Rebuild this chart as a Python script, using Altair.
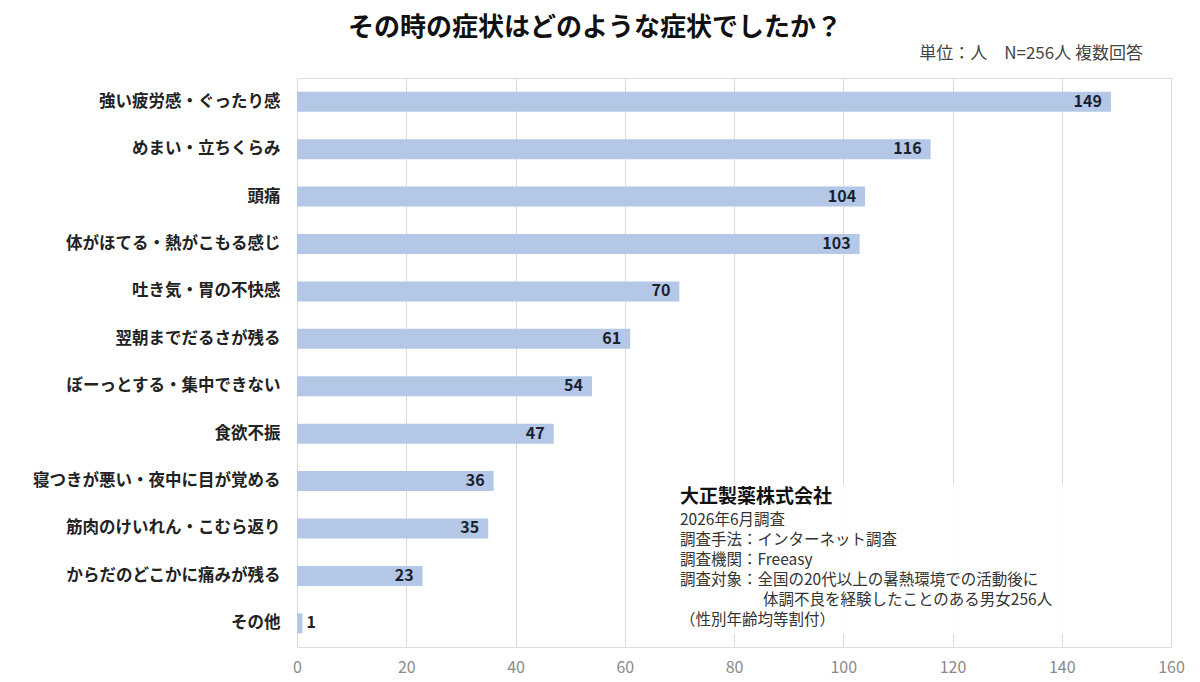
import altair as alt
import pandas as pd

categories = ["強い疲労感・ぐったり感", "めまい・立ちくらみ", "頭痛", "体がほてる・熱がこもる感じ",
              "吐き気・胃の不快感", "翌朝までだるさが残る", "ぼーっとする・集中できない", "食欲不振",
              "寝つきが悪い・夜中に目が覚める", "筋肉のけいれん・こむら返り", "からだのどこかに痛みが残る", "その他"]
values = [149, 116, 104, 103, 70, 61, 54, 47, 36, 35, 23, 1]
tick_values = [0, 20, 40, 60, 80, 100, 120, 140, 160]

title_text = "その時の症状はどのような症状でしたか？"
unit_text = "単位：人　N=256人 複数回答"
note_title = "大正製薬株式会社"
note_lines = [
    "2026年6月調査",
    "調査手法：インターネット調査",
    "調査機関：Freeasy",
    "調査対象：全国の20代以上の暑熱環境での活動後に",
    "体調不良を経験したことのある男女256人",
    "（性別年齢均等割付）",
]
note_x = [383, 383, 383, 383, 466, 383]
note_y = [442, 462, 482, 502, 522, 542]

FONT = "Noto Sans CJK JP"
df = pd.DataFrame({"cat": categories, "val": values})

base = alt.Chart(df)
x_enc = alt.X("val:Q", scale=alt.Scale(domain=[0, 160], nice=False),
              axis=alt.Axis(values=tick_values, title=None, grid=True, gridColor="#d9d9d9",
                            domain=False, ticks=False, labelColor="#8a8a8a", labelFontSize=16,
                            labelPadding=12, labelFont=FONT, labelFlush=False))
y_enc = alt.Y("cat:N", sort=categories,
              axis=alt.Axis(title=None, domain=False, ticks=False, labelFontSize=16.5,
                            labelFontWeight="bold", labelColor="#222222", labelPadding=17,
                            minExtent=284, labelFont=FONT, labelLimit=400))

note_box = alt.Chart(pd.DataFrame({"a": [0]})).mark_rect(fill="white", opacity=0.9).encode(
    x=alt.value(371), x2=alt.value(828), y=alt.value(406), y2=alt.value(556))

bars = base.mark_bar(color="#b4c7e7", size=20).encode(x=x_enc, y=y_enc)

labels_in = base.transform_filter("datum.val >= 10").mark_text(
    align="right", baseline="middle", dx=-9, fontSize=16, fontWeight="bold",
    color="#1b1f2e", font=FONT).encode(x="val:Q", y=alt.Y("cat:N", sort=categories), text="val:Q")

labels_out = base.transform_filter("datum.val < 10").mark_text(
    align="left", baseline="middle", dx=4, fontSize=16, fontWeight="bold",
    color="#1b1f2e", font=FONT).encode(x="val:Q", y=alt.Y("cat:N", sort=categories), text="val:Q")

title = alt.Chart(pd.DataFrame({"t": [title_text]})).mark_text(
    align="center", baseline="top", fontSize=26, fontWeight="bold", color="#111111", font=FONT
).encode(text="t:N", x=alt.value(298), y=alt.value(-63))

unit = alt.Chart(pd.DataFrame({"t": [unit_text]})).mark_text(
    align="right", baseline="middle", fontSize=17, color="#444444", font=FONT
).encode(text="t:N", x=alt.value(846), y=alt.value(-24))

note_head = alt.Chart(pd.DataFrame({"t": [note_title]})).mark_text(
    align="left", baseline="middle", fontSize=19, fontWeight="bold", color="#111111", font=FONT
).encode(text="t:N", x=alt.value(383), y=alt.value(419))

note_layers = []
for txt, nx, ny in zip(note_lines, note_x, note_y):
    note_layers.append(
        alt.Chart(pd.DataFrame({"t": [txt]})).mark_text(
            align="left", baseline="middle", fontSize=15.5, color="#333333", font=FONT
        ).encode(text="t:N", x=alt.value(nx), y=alt.value(ny))
    )

chart = alt.layer(note_box, bars, labels_in, labels_out, title, unit, note_head, *note_layers).properties(
    width=874, height=569,
    padding={"top": 7, "left": 5, "right": 5, "bottom": 5}
).configure_view(stroke=None).configure(font=FONT)

chart.save("out.html", embed_options={"renderer": "svg", "actions": False})
